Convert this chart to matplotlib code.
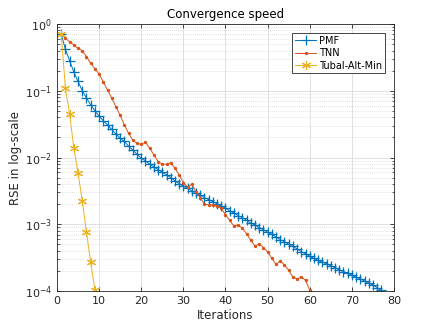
import matplotlib.pyplot as plt
import numpy as np
from matplotlib.ticker import LogLocator, NullFormatter

# log10 of RSE
pmf_log = [-0.15, -0.38, -0.55, -0.72, -0.86, -1.00, -1.11, -1.21, -1.30, -1.38,
           -1.45, -1.51, -1.58, -1.65, -1.71, -1.76, -1.83, -1.89, -1.95, -2.01,
           -2.05, -2.10, -2.14, -2.18, -2.22, -2.26, -2.30, -2.35, -2.39, -2.43,
           -2.46, -2.50, -2.53, -2.56, -2.60, -2.63, -2.66, -2.69, -2.73, -2.76,
           -2.80, -2.83, -2.87, -2.90, -2.94, -2.98, -3.01, -3.05, -3.08, -3.12,
           -3.15, -3.19, -3.23, -3.26, -3.30, -3.33, -3.37, -3.41, -3.44, -3.48,
           -3.51, -3.54, -3.57, -3.59, -3.62, -3.65, -3.68, -3.71, -3.73, -3.76,
           -3.79, -3.82, -3.85, -3.88, -3.91, -3.95, -3.99]
tnn_log = [-0.15, -0.215, -0.265, -0.315, -0.365, -0.40, -0.49, -0.59, -0.67, -0.75,
           -0.87, -0.99, -1.11, -1.24, -1.37, -1.51, -1.64, -1.74, -1.79, -1.80,
           -1.77, -1.86, -1.96, -2.06, -2.10, -2.10, -2.08, -2.16, -2.26, -2.38,
           -2.44, -2.40, -2.51, -2.60, -2.70, -2.71, -2.71, -2.73, -2.76, -2.86,
           -2.94, -3.03, -3.01, -3.06, -3.14, -3.24, -3.33, -3.29, -3.35, -3.41,
           -3.51, -3.60, -3.55, -3.61, -3.69, -3.79, -3.82, -3.79, -3.84, -3.99]
tam_log = [-0.15, -0.96, -1.35, -1.86, -2.23, -2.65, -3.12, -3.57, -3.98]

pmf = 10 ** np.array(pmf_log)
tnn = 10 ** np.array(tnn_log)
tam = 10 ** np.array(tam_log)
it_pmf = np.arange(1, len(pmf) + 1)
it_tnn = np.arange(1, len(tnn) + 1)
it_tam = np.arange(1, len(tam) + 1)

fig = plt.figure(figsize=(4.36, 3.27), dpi=100)
ax = fig.add_axes([0.1307, 0.110, 0.7730, 0.8166])

ax.semilogy(it_pmf, pmf, color='#0072BD', lw=0.7, marker='+', ms=6.5, mew=0.9, label='PMF')
ax.semilogy(it_tnn, tnn, color='#D95319', lw=0.7, marker='.', ms=2.8, label='TNN')
ax.semilogy(it_tam, tam, color='#EDB120', lw=0.7, marker=(6, 2, 0), ms=6.5, mew=0.8,
            label='Tubal-Alt-Min')

ax.set_xlim(0, 80)
ax.set_ylim(1e-4, 1)
ax.set_xticks(np.arange(0, 81, 10))
ax.yaxis.set_major_locator(LogLocator(base=10, numticks=10))
ax.yaxis.set_minor_locator(LogLocator(base=10, subs=np.arange(2, 10), numticks=20))
ax.yaxis.set_minor_formatter(NullFormatter())

ax.grid(True, which='major', color='#dcdcdc', lw=0.6)
ax.grid(True, which='minor', axis='y', color='#c8c8c8', lw=0.5, ls=(0, (1, 2)))
ax.set_axisbelow(True)

ax.tick_params(which='both', direction='in', top=True, right=True, colors='#262626',
               labelsize=8)
ax.tick_params(which='major', length=3, width=0.6)
ax.tick_params(which='minor', length=1.8, width=0.5)
for s in ax.spines.values():
    s.set_color('#262626')
    s.set_linewidth(0.6)

ax.set_title('Convergence speed', fontsize=8.5, color='black', pad=4)
ax.set_xlabel('Iterations', fontsize=8.5, color='#262626', labelpad=2)
ax.set_ylabel('RSE in log-scale', fontsize=8.5, color='#262626', labelpad=2)

leg = ax.legend(loc='upper right', fontsize=7, fancybox=False, framealpha=1,
                edgecolor='#262626', handlelength=2.2, borderaxespad=0.9,
                labelspacing=0.25, borderpad=0.3, handletextpad=0.3)
leg.get_frame().set_linewidth(0.6)

plt.savefig('out.png', dpi=100)
